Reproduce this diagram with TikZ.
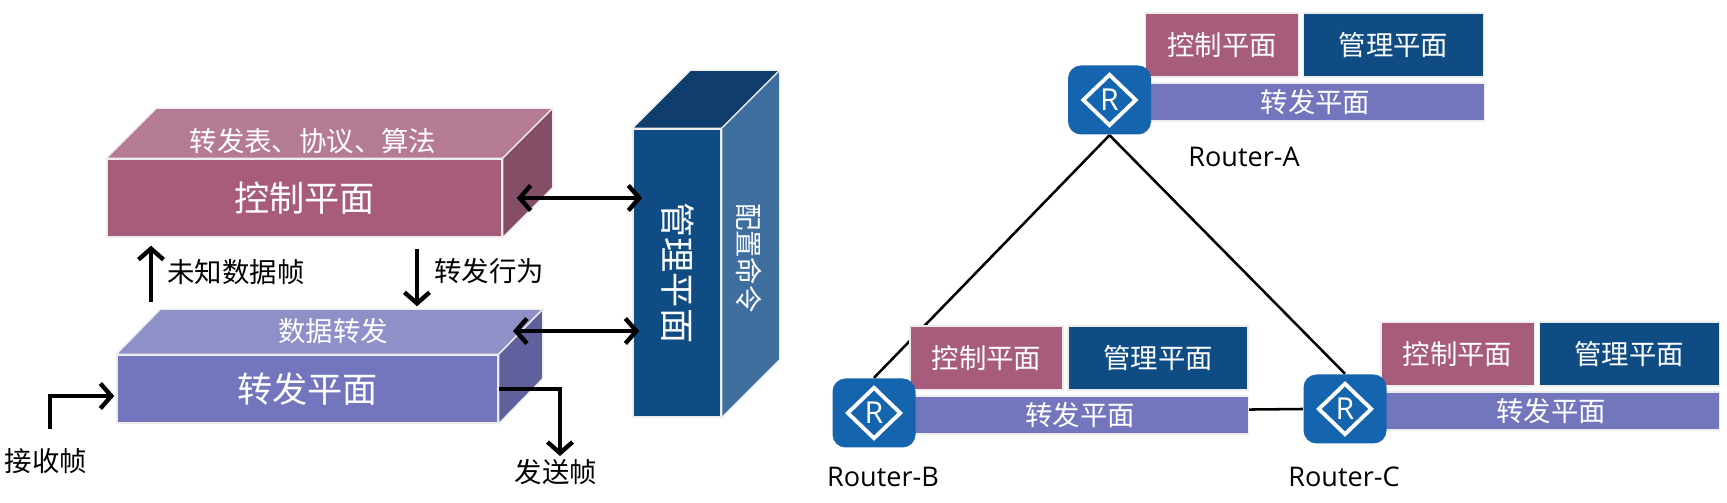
\documentclass[tikz,border=0pt]{standalone}
\usepackage{xcolor}
\usepackage{fontspec}
\setmainfont{Noto Sans CJK SC}
\newfontfamily\latinfont{Open Sans}
\usepackage{tikz}
\usetikzlibrary{arrows.meta, shapes.geometric, backgrounds}
\definecolor{ctrlfront}{HTML}{A65C7A}
\definecolor{ctrltop}{HTML}{B57B95}
\definecolor{ctrlside}{HTML}{834E66}
\definecolor{datafront}{HTML}{7376BC}
\definecolor{datatop}{HTML}{8F90C8}
\definecolor{dataside}{HTML}{5F609C}
\definecolor{mgmtfront}{HTML}{104C84}
\definecolor{mgmttop}{HTML}{0F3E6D}
\definecolor{mgmtside}{HTML}{3F6F9F}
\definecolor{routerblue}{HTML}{1464AE}
\tikzset{
  bigplane/.style={draw=white!93!black, line width=0.4pt, inner sep=0pt, text=white, font=\fontsize{10pt}{11pt}\selectfont},
  facetext/.style={inner sep=0pt, text=white, font=\fontsize{7.8pt}{9pt}\selectfont},
  facefill/.style={draw=white!93!black, line width=0.4pt},
  minihead/.style={draw=white!93!black, line width=0.3pt, inner sep=0pt, text=white, minimum height=0.64cm, font=\fontsize{7.8pt}{9pt}\selectfont},
  miniforward/.style={minihead, fill=datafront, minimum width=3.37cm, minimum height=0.38cm},
  router/.style={fill=routerblue, rounded corners=0.13cm, minimum width=0.83cm, minimum height=0.69cm, inner sep=0pt},
  routermark/.style={diamond, draw=white, line width=1.1pt, minimum width=0.54cm, minimum height=0.52cm, inner sep=0pt, text=white, font=\latinfont\fontsize{8.6pt}{9pt}\selectfont},
  routername/.style={inner sep=0pt, font=\latinfont\fontsize{7.7pt}{9pt}\selectfont},
  blacktext/.style={inner sep=0pt, font=\fontsize{7.8pt}{9pt}\selectfont},
  flow/.style={line width=1.25pt, >={Straight Barb[length=1.1mm, width=2.5mm, line width=1.25pt]}},
  link/.style={line width=0.72pt}
}
\begin{document}
\begin{tikzpicture}
  \useasboundingbox (0,0) rectangle (17.27,5.03);

  % Blocks
  \node[bigplane, fill=ctrlfront, minimum width=3.95cm, minimum height=0.78cm] (ctrl) at (3.045,3.05) {};
  \node[bigplane, fill=datafront, minimum width=3.81cm, minimum height=0.68cm] (data) at (3.075,1.14) {};
  \node[bigplane, fill=mgmtfront, minimum width=0.88cm, minimum height=2.88cm] (mgmt) at (6.77,2.30) {};

  % Top and side faces
  \foreach \block/\dx/\dy/\topcol/\sidecol in {ctrl/0.50/0.50/ctrltop/ctrlside, data/0.44/0.45/datatop/dataside, mgmt/0.58/0.58/mgmttop/mgmtside} {
    \draw[facefill, fill=\topcol] (\block.north west) -- ++(\dx,\dy) -- ([shift={(\dx,\dy)}]\block.north east) -- (\block.north east) -- cycle;
    \draw[facefill, fill=\sidecol] (\block.north east) -- ++(\dx,\dy) -- ([shift={(\dx,\dy)}]\block.south east) -- (\block.south east) -- cycle;
  }

  % Block labels
  \node[bigplane, draw=none] (ctrllabel) at (ctrl) {控制平面};
  \node[bigplane, draw=none] (datalabel) at (data) {转发平面};
  \node[bigplane, draw=none, rotate=-90] (mgmtlabel) at (6.78,2.30) {管理平面};
  \node[facetext] (ctrltoplabel) at (3.13,3.62) {转发表、协议、算法};
  \node[facetext] (datatoplabel) at (3.33,1.72) {数据转发};
  \node[facetext, rotate=-90] (cmdlabel) at (7.49,2.45) {配置命令};

  % Arrows
  \coordinate (dataport) at (5.13,1.72);
  \coordinate (upstart) at (1.51,2.01);
  \coordinate (downstart) at (4.17,2.54);
  \coordinate (recvstart) at (0.50,0.74);
  \coordinate (sendend) at (5.60,0.47);
  \draw[flow, <->] ([xshift=0.14cm]ctrl.east) -- ([xshift=0.10cm]ctrl.east -| mgmt.west);
  \draw[flow, <->] (dataport) -- ([xshift=0.07cm]dataport -| mgmt.west);
  \draw[flow, ->] (upstart) -- ([yshift=-0.08cm]upstart |- ctrl.south);
  \draw[flow, ->] (downstart) -- ([yshift=0.48cm]downstart |- data.north);
  \draw[flow, ->] (recvstart) |- ([shift={(-0.02,-0.07)}]data.west);
  \draw[flow, ->] (data.east) -| (sendend);

  \node[blacktext] (unknown) at (2.36,2.31) {未知数据帧};
  \node[blacktext] (action) at (4.89,2.32) {转发行为};
  \node[blacktext] (recv) at (0.46,0.42) {接收帧};
  \node[blacktext] (send) at (5.56,0.31) {发送帧};

  % Routers
  \foreach \name/\x/\y/\lx/\ly in {A/11.095/4.03/12.44/3.46, B/8.74/0.90/8.83/0.26, C/13.45/0.94/13.44/0.26} {
    \node[minihead, fill=ctrlfront, minimum width=1.53cm] (ctrl\name) at ([shift={(1.125,0.55)}]\x,\y) {控制平面};
    \node[minihead, fill=mgmtfront, minimum width=1.80cm] (mgmt\name) at ([shift={(2.84,0.55)}]\x,\y) {管理平面};
    \node[miniforward] (fwd\name) at ([shift={(2.06,-0.02)}]\x,\y) {转发平面};
    \node[router] (router\name) at (\x,\y) {};
    \node[routermark] (mark\name) at (router\name) {R};
    \node[routername] (label\name) at (\lx,\ly) {Router-\name};
  }

  % Links
  \begin{scope}[on background layer]
    \draw[link] (routerA.south) -- (routerB.north);
    \draw[link] (routerA.south) -- (routerC.north);
    \draw[link] (routerB.east) -- (routerC.west);
  \end{scope}
\end{tikzpicture}
\end{document}
